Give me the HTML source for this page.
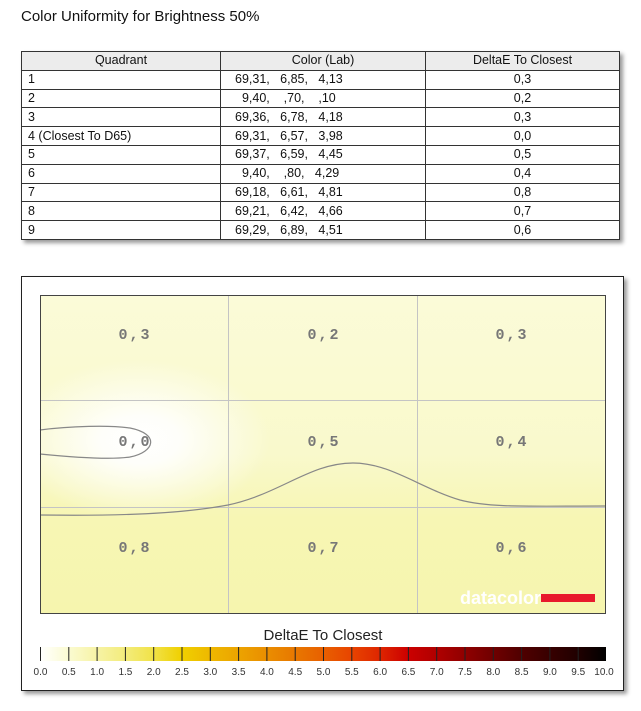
<!DOCTYPE html>
<html><head><meta charset="utf-8"><style>
body{margin:0;width:641px;height:711px;background:#fff;font-family:"Liberation Sans",Arial,sans-serif;position:relative;overflow:hidden}
.title{position:absolute;left:21px;top:8px;font-size:15px;color:#111}
table{position:absolute;left:21px;top:51px;width:599px;border-collapse:collapse;font-size:12.5px;color:#111;box-shadow:3px 3px 4px #999}
td,th{border:1px solid #333;height:17.8px;padding:0;line-height:17px}
th{background:#ececec;font-weight:normal}
td:first-child{padding-left:6px}
td:nth-child(2){padding-left:14px}
td:nth-child(3){text-align:center}
.box{position:absolute;left:21px;top:276px;width:601px;height:413px;border:1px solid #222;box-shadow:3px 3px 4px #999}
.lab{position:absolute;width:80px;text-align:center;font-family:"Liberation Mono",monospace;font-weight:bold;font-size:15px;color:#777;letter-spacing:2px}
</style></head><body>
<div class="title">Color Uniformity for Brightness 50%</div>
<table>
<tr><th style="width:198px">Quadrant</th><th style="width:204px">Color (Lab)</th><th>DeltaE To Closest</th></tr>
<tr><td>1</td><td>69,31,&nbsp;&nbsp; 6,85,&nbsp;&nbsp; 4,13</td><td>0,3</td></tr>
<tr><td>2</td><td>&nbsp;&nbsp;9,40,&nbsp;&nbsp;&nbsp; ,70,&nbsp;&nbsp;&nbsp; ,10</td><td>0,2</td></tr>
<tr><td>3</td><td>69,36,&nbsp;&nbsp; 6,78,&nbsp;&nbsp; 4,18</td><td>0,3</td></tr>
<tr><td>4 (Closest To D65)</td><td>69,31,&nbsp;&nbsp; 6,57,&nbsp;&nbsp; 3,98</td><td>0,0</td></tr>
<tr><td>5</td><td>69,37,&nbsp;&nbsp; 6,59,&nbsp;&nbsp; 4,45</td><td>0,5</td></tr>
<tr><td>6</td><td>&nbsp;&nbsp;9,40,&nbsp;&nbsp;&nbsp; ,80,&nbsp;&nbsp; 4,29</td><td>0,4</td></tr>
<tr><td>7</td><td>69,18,&nbsp;&nbsp; 6,61,&nbsp;&nbsp; 4,81</td><td>0,8</td></tr>
<tr><td>8</td><td>69,21,&nbsp;&nbsp; 6,42,&nbsp;&nbsp; 4,66</td><td>0,7</td></tr>
<tr><td>9</td><td>69,29,&nbsp;&nbsp; 6,89,&nbsp;&nbsp; 4,51</td><td>0,6</td></tr>
</table>
<div class="box"></div>
<svg style="position:absolute;left:0;top:0" width="641" height="711">
<defs>
<linearGradient id="bg" x1="0" y1="0" x2="0" y2="1">
<stop offset="0" stop-color="#fbfbd8"/><stop offset="0.5" stop-color="#f9f9cc"/><stop offset="0.7" stop-color="#f7f6b4"/><stop offset="1" stop-color="#f6f5ae"/></linearGradient>
<radialGradient id="wh" cx="140" cy="440" r="100" gradientUnits="userSpaceOnUse" gradientTransform="translate(140 440) scale(1.3 0.8) translate(-140 -440)">
<stop offset="0" stop-color="#fff" stop-opacity="1"/><stop offset="0.3" stop-color="#fff" stop-opacity="0.9"/><stop offset="1" stop-color="#fff" stop-opacity="0"/></radialGradient>
<linearGradient id="cb" x1="0" x2="1">
<stop offset="0" stop-color="#ffffff"/><stop offset="0.05" stop-color="#fbfbd2"/><stop offset="0.1" stop-color="#f7f3a6"/><stop offset="0.15" stop-color="#f3ec7c"/><stop offset="0.2" stop-color="#f1e248"/><stop offset="0.25" stop-color="#f0d000"/><stop offset="0.3" stop-color="#eeb800"/><stop offset="0.35" stop-color="#eca400"/><stop offset="0.4" stop-color="#ea8e00"/><stop offset="0.45" stop-color="#e87800"/><stop offset="0.5" stop-color="#e86000"/><stop offset="0.55" stop-color="#e84400"/><stop offset="0.6" stop-color="#de2600"/><stop offset="0.65" stop-color="#cc0000"/><stop offset="0.7" stop-color="#b00000"/><stop offset="0.75" stop-color="#900000"/><stop offset="0.8" stop-color="#700000"/><stop offset="0.85" stop-color="#500000"/><stop offset="0.9" stop-color="#380000"/><stop offset="0.95" stop-color="#200000"/><stop offset="1" stop-color="#000"/></linearGradient>
</defs>
<rect x="40" y="295" width="565" height="318" fill="url(#bg)"/>
<rect x="40" y="295" width="565" height="318" fill="url(#wh)"/>
<g stroke="#c4c4c4" stroke-width="1">
<line x1="228.5" y1="295" x2="228.5" y2="613"/><line x1="417.5" y1="295" x2="417.5" y2="613"/>
<line x1="40" y1="400.5" x2="605" y2="400.5"/><line x1="40" y1="507.5" x2="605" y2="507.5"/></g>
<path d="M40 430 C70 426,110 425,130 428 C160 434,155 452,130 457 C110 460,70 457,40 454" fill="none" stroke="#888" stroke-width="1.2"/>
<path d="M40 515 C120 516,180 514,228 505 C280 494,310 463,353 463 C390 463,420 488,460 500 C490 508,530 506,605 506" fill="none" stroke="#888" stroke-width="1.2"/>
<rect x="40.5" y="295.5" width="565" height="318" fill="none" stroke="#444" stroke-width="1"/>
<text x="460" y="604" font-family="Liberation Sans" font-weight="bold" font-size="18" fill="#fff">datacolor</text>
<rect x="541" y="594" width="54" height="8" fill="#e8192c"/>
<text x="323" y="640" text-anchor="middle" font-family="Liberation Sans" font-size="15" fill="#222">DeltaE To Closest</text>
<rect x="40" y="647" width="566" height="14" fill="url(#cb)"/>
<g stroke="#222" stroke-width="1">
<line x1="40.5" y1="647" x2="40.5" y2="661"/><line x1="68.8" y1="647" x2="68.8" y2="661"/><line x1="97.1" y1="647" x2="97.1" y2="661"/><line x1="125.4" y1="647" x2="125.4" y2="661"/><line x1="153.7" y1="647" x2="153.7" y2="661"/><line x1="182" y1="647" x2="182" y2="661"/><line x1="210.3" y1="647" x2="210.3" y2="661"/><line x1="238.6" y1="647" x2="238.6" y2="661"/><line x1="266.9" y1="647" x2="266.9" y2="661"/><line x1="295.2" y1="647" x2="295.2" y2="661"/><line x1="323.5" y1="647" x2="323.5" y2="661"/><line x1="351.8" y1="647" x2="351.8" y2="661"/><line x1="380.1" y1="647" x2="380.1" y2="661"/><line x1="408.4" y1="647" x2="408.4" y2="661"/><line x1="436.7" y1="647" x2="436.7" y2="661"/><line x1="465" y1="647" x2="465" y2="661"/><line x1="493.3" y1="647" x2="493.3" y2="661"/><line x1="521.6" y1="647" x2="521.6" y2="661"/><line x1="549.9" y1="647" x2="549.9" y2="661"/><line x1="578.2" y1="647" x2="578.2" y2="661"/></g>
<g font-family="Liberation Sans" font-size="10" fill="#333" text-anchor="middle">
<text x="40.5" y="675">0.0</text><text x="68.8" y="675">0.5</text><text x="97.1" y="675">1.0</text><text x="125.4" y="675">1.5</text><text x="153.7" y="675">2.0</text><text x="182" y="675">2.5</text><text x="210.3" y="675">3.0</text><text x="238.6" y="675">3.5</text><text x="266.9" y="675">4.0</text><text x="295.2" y="675">4.5</text><text x="323.5" y="675">5.0</text><text x="351.8" y="675">5.5</text><text x="380.1" y="675">6.0</text><text x="408.4" y="675">6.5</text><text x="436.7" y="675">7.0</text><text x="465" y="675">7.5</text><text x="493.3" y="675">8.0</text><text x="521.6" y="675">8.5</text><text x="549.9" y="675">9.0</text><text x="578.2" y="675">9.5</text><text x="604" y="675">10.0</text></g>
</svg>
<div class="lab" style="left:95px;top:327px">0,3</div>
<div class="lab" style="left:284px;top:327px">0,2</div>
<div class="lab" style="left:472px;top:327px">0,3</div>
<div class="lab" style="left:95px;top:434px">0,0</div>
<div class="lab" style="left:284px;top:434px">0,5</div>
<div class="lab" style="left:472px;top:434px">0,4</div>
<div class="lab" style="left:95px;top:540px">0,8</div>
<div class="lab" style="left:284px;top:540px">0,7</div>
<div class="lab" style="left:472px;top:540px">0,6</div>
</body></html>
